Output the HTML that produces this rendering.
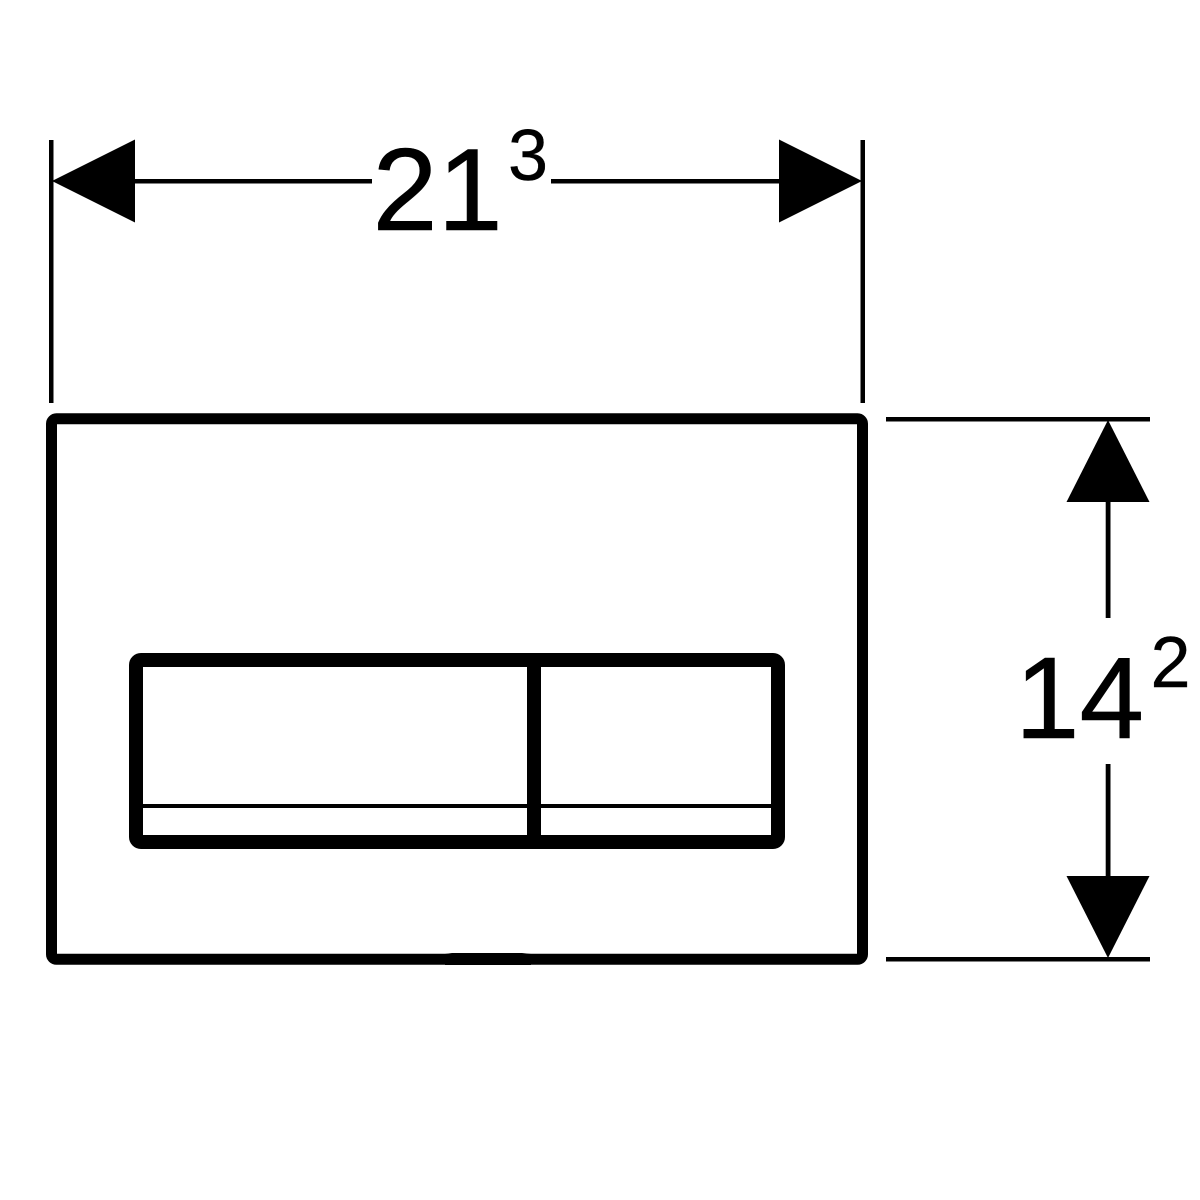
<!DOCTYPE html>
<html>
<head>
<meta charset="utf-8">
<style>
html,body{margin:0;padding:0;background:#fff;width:1200px;height:1200px;overflow:hidden}
svg{display:block}
text{font-family:"Liberation Sans",sans-serif;fill:#000}
</style>
</head>
<body>
<svg width="1200" height="1200" viewBox="0 0 1200 1200" xmlns="http://www.w3.org/2000/svg">
<rect width="1200" height="1200" fill="#fff"/>
<!-- outer plate -->
<rect x="51.500" y="418.800" width="811" height="540.500" rx="5" ry="5" fill="none" stroke="#000" stroke-width="11"/>
<polygon points="445,954 452,953 522,953 531,954 531,965 445,965" fill="#000"/>
<!-- button -->
<rect x="136" y="660" width="642" height="182" rx="5" ry="5" fill="none" stroke="#000" stroke-width="14"/>
<rect x="527" y="660" width="14" height="181" fill="#000"/>
<rect x="140" y="804" width="636" height="4" fill="#000"/>
<!-- horizontal dimension -->
<rect x="49" y="140" width="4.500" height="263" fill="#000"/>
<rect x="860.500" y="140" width="4.500" height="263" fill="#000"/>
<rect x="134" y="179" width="238" height="4.500" fill="#000"/>
<rect x="551" y="179" width="230" height="4.500" fill="#000"/>
<polygon points="52,181 135,139.500 135,222.500" fill="#000"/>
<polygon points="862,181 779,139.500 779,222.500" fill="#000"/>
<!-- vertical dimension -->
<rect x="886" y="417" width="264" height="4.500" fill="#000"/>
<rect x="886" y="957" width="264" height="4.500" fill="#000"/>
<rect x="1105.700" y="500" width="4.800" height="118" fill="#000"/>
<rect x="1105.700" y="764" width="4.800" height="114" fill="#000"/>
<polygon points="1108,420 1066.500,502 1149.500,502" fill="#000"/>
<polygon points="1108,958 1066.500,876 1149.500,876" fill="#000"/>
<!-- labels -->
<text x="372.500" y="230" font-size="117" stroke="#000" stroke-width="0.6">21</text>
<text x="508" y="180" font-size="72" stroke="#000" stroke-width="0.4">3</text>
<text x="1015" y="738" font-size="116" stroke="#000" stroke-width="0.6">14</text>
<text x="1150.500" y="687" font-size="72" stroke="#000" stroke-width="0.4">2</text>
</svg>
</body>
</html>
